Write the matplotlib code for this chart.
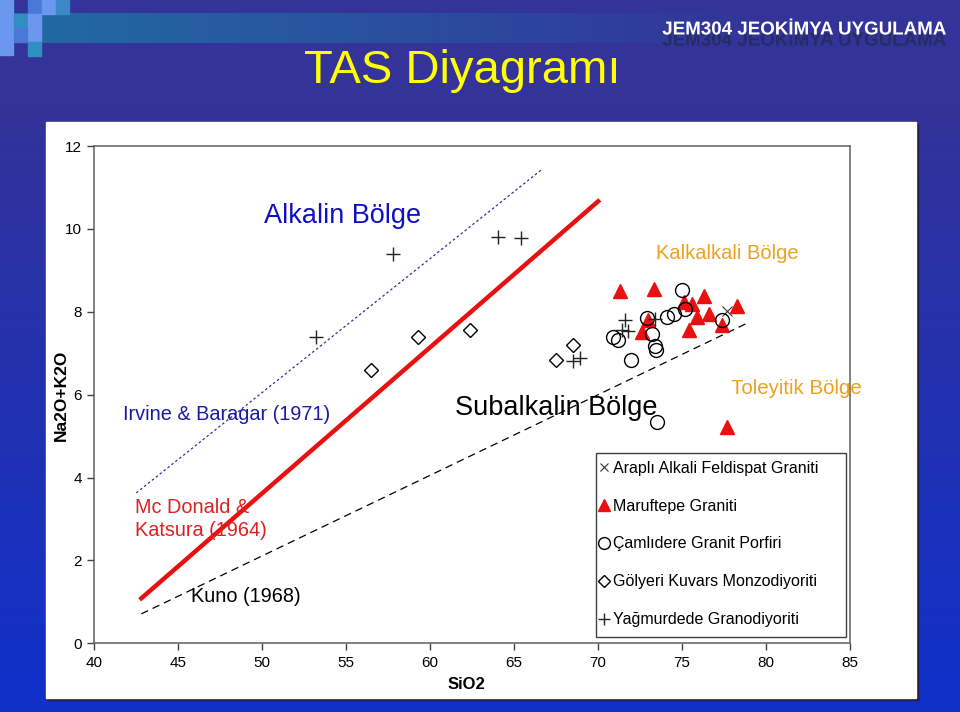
import numpy as np
import matplotlib
matplotlib.use('Agg')
import matplotlib.pyplot as plt
import matplotlib.patheffects as pe
from matplotlib.patches import Rectangle

plt.rcParams['font.family'] = ['Liberation Sans', 'DejaVu Sans']

# reference lines (SiO2, Na2O+K2O) end points
mcdonald_x = [42.7, 70.1]
mcdonald_y = [1.05, 10.7]
irvine_x = [42.5, 66.7]
irvine_y = [3.63, 11.45]
kuno_x = [42.8, 78.8]
kuno_y = [0.71, 7.71]

# samples
arapli_x = [77.7]
arapli_y = [8.01]

maruf_x = [71.3, 73.3, 76.3, 75.1, 75.6, 75.9, 76.6, 75.4, 77.35, 78.3, 73.0, 72.6, 77.7]
maruf_y = [8.50, 8.55, 8.39, 8.23, 8.19, 7.87, 7.95, 7.57, 7.67, 8.13, 7.81, 7.51, 5.22]

camli_x = [70.9, 71.2, 71.95, 72.9, 73.2, 73.4, 73.45, 74.1, 74.5, 75.0, 75.15, 77.4, 73.5]
camli_y = [7.40, 7.31, 6.84, 7.85, 7.47, 7.18, 7.07, 7.87, 7.95, 8.53, 8.07, 7.79, 5.33]

golyeri_x = [56.5, 59.3, 62.4, 68.5, 67.5]
golyeri_y = [6.60, 7.39, 7.57, 7.19, 6.83]

yagmur_x = [57.8, 64.05, 65.4, 53.2, 71.6, 71.4, 71.8, 68.9, 68.5, 73.4]
yagmur_y = [9.40, 9.80, 9.77, 7.39, 7.81, 7.57, 7.53, 6.89, 6.81, 7.83]

legend_labels = ['Araplı Alkali Feldispat Graniti', 'Maruftepe Graniti',
                 'Çamlıdere Granit Porfiri', 'Gölyeri Kuvars Monzodiyoriti',
                 'Yağmurdede Granodiyoriti']

W, H = 960, 712
fig = plt.figure(figsize=(W / 100, H / 100), dpi=100)

# slide background
bg = fig.add_axes([0, 0, 1, 1])
bg.set_xlim(0, W)
bg.set_ylim(H, 0)
bg.axis('off')
top = np.array([51, 51, 153]) / 255
bot = np.array([16, 48, 202]) / 255
t = np.linspace(0, 1, 200)[:, None]
grad = top + (bot - top) * np.clip((t - 0.15) / 0.85, 0, 1)
bg.imshow(grad[:, None, :].repeat(2, axis=1), extent=[0, W, H, 0], aspect='auto', zorder=0)

# top band, teal fading to the right
band = np.zeros((1, 300, 4))
band[..., :3] = np.array([30, 115, 165]) / 255
band[..., 3] = np.clip(1 - np.linspace(0, 1, 300) / 0.8, 0, 1) * 0.9
bg.imshow(band, extent=[0, W, 43, 13], aspect='auto', zorder=1)

# decorative squares
sq = [(0, 0, 13, 55, '#6b98ee'), (14, 14, 13, 14, '#2f8fc0'), (28, 0, 13, 14, '#4a78d8'),
      (28, 14, 13, 14, '#6b98ee'), (42, 0, 13, 14, '#6b98ee'), (28, 28, 13, 14, '#6b98ee'),
      (28, 42, 13, 14, '#2f8fc0'), (56, 0, 13, 14, '#3a88c8'), (14, 28, 13, 14, '#4a78d8')]
for x0, y0, w, h, c in sq:
    bg.add_patch(Rectangle((x0, y0), w, h, color=c, zorder=2))

# white panel
bg.add_patch(Rectangle((48, 124), 870, 576, color='#202040', zorder=2))
bg.add_patch(Rectangle((46, 122), 870, 576, color='white', zorder=3))

bg.text(462, 71, 'TAS Diyagramı', color='#ffff00', fontsize=34, ha='center', va='center', zorder=4)
bg.text(946, 30, 'JEM304 JEOKİMYA UYGULAMA', color='white', fontsize=13.5, fontweight='bold',
        ha='right', va='center', zorder=5,
        path_effects=[pe.withSimplePatchShadow(offset=(0, -8), shadow_rgbFace='#262c66', alpha=1)])

# chart
ax = fig.add_axes([94.3 / W, 1 - 643.3 / H, (850 - 94.3) / W, (643.3 - 146) / H])
ax.set_zorder(5)
ax.patch.set_alpha(0)
ax.set_xlim(40, 85)
ax.set_ylim(0, 12)
ax.set_xticks(range(40, 86, 5))
ax.set_yticks(range(0, 13, 2))
ax.tick_params(direction='out', length=5, width=1, colors='#404040', labelsize=11,
               labelcolor='black', pad=4)
for s in ax.spines.values():
    s.set_color('#606060')
    s.set_linewidth(1.1)


def to_axes(px, py):
    return (px - 94.3) / (850 - 94.3), (643.3 - py) / (643.3 - 146)


ax.set_xlabel('SiO2', fontsize=12, fontweight='bold')
ax.xaxis.set_label_coords(*to_axes(466, 677))
ax.set_ylabel('Na2O+K2O', fontsize=12.5, fontweight='bold')
ax.yaxis.set_label_coords(*to_axes(69, 395))

ax.plot(mcdonald_x, mcdonald_y, color='#e81010', lw=3.2, solid_capstyle='butt')
ax.plot(irvine_x, irvine_y, color='#303090', lw=0.9, ls=(0, (2, 2)))
ax.plot(kuno_x, kuno_y, color='black', lw=0.9, ls=(0, (6, 4)))

ax.plot(arapli_x, arapli_y, 'x', color='#333333', ms=7, mew=0.8, label=legend_labels[0])
ax.plot(maruf_x, maruf_y, '^', color='#e81010', ms=10, mec='#e81010', label=legend_labels[1])
ax.plot(camli_x, camli_y, 'o', mfc='none', mec='black', ms=10, mew=1, label=legend_labels[2])
ax.plot(golyeri_x, golyeri_y, 'D', mfc='none', mec='black', ms=7, mew=1, label=legend_labels[3])
ax.plot(yagmur_x, yagmur_y, '+', color='#222222', ms=10, mew=1, label=legend_labels[4])

ax.text(54.8, 10.32, 'Alkalin Bölge', color='#1010c0', fontsize=19.5, ha='center', va='center')
ax.text(77.7, 9.40, 'Kalkalkali Bölge', color='#eea020', fontsize=14.5, ha='center', va='center')
ax.text(81.8, 6.15, 'Toleyitik Bölge', color='#eea020', fontsize=14.8, ha='center', va='center',
        clip_on=False)
ax.text(67.5, 5.67, 'Subalkalin Bölge', color='black', fontsize=19.5, ha='center', va='center')
ax.text(47.9, 5.52, 'Irvine & Baragar (1971)', color='#1a1aa0', fontsize=14.3, ha='center', va='center')
ax.text(42.45, 3.0, 'Mc Donald &\nKatsura (1964)', color='#e02020', fontsize=14.3, ha='left',
        va='center', linespacing=1.3)
ax.text(49.0, 1.14, 'Kuno (1968)', color='black', fontsize=14.3, ha='center', va='center')

# legend: box drawn separately so its size matches the slide
lx0, ly0 = to_axes(596, 637)
lx1, ly1 = to_axes(846, 453)
ax.add_patch(Rectangle((lx0, ly0), lx1 - lx0, ly1 - ly0, transform=ax.transAxes,
                       facecolor='white', edgecolor='#404040', lw=1, zorder=4, clip_on=False))
leg = ax.legend(loc='upper left', bbox_to_anchor=to_axes(594, 456),
                fontsize=11.5, frameon=False, handlelength=0.6, handletextpad=0.3,
                labelspacing=1.43, borderpad=0.3, borderaxespad=0, markerscale=0.85)
leg.set_zorder(6)

fig.savefig('out.png', dpi=100)
